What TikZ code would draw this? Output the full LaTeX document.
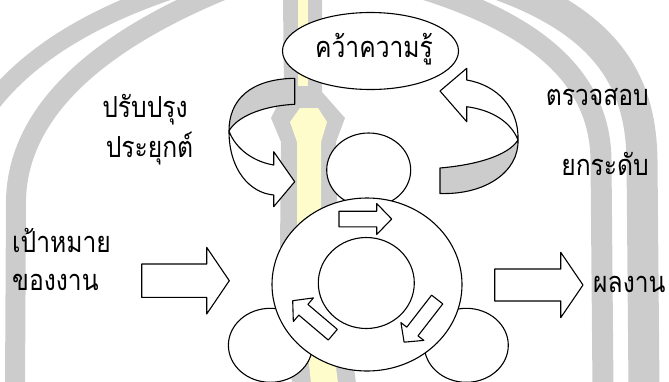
\documentclass[tikz,border=0pt]{standalone}
\usepackage{fontspec}
\newfontfamily\thaifont[Script=Thai, FakeStretch=0.85]{Loma}
\usetikzlibrary{shapes.geometric}

% block arrow: tail centre, angle, length, shaft half width, head half width, head length
\newcommand{\blockarrow}[6]{%
  \begin{scope}[shift={#1}, rotate=#2]
    \draw[outline] (0,-#4) -- ({#3-#6},-#4) -- ({#3-#6},-#5) -- (#3,0)
      -- ({#3-#6},#5) -- ({#3-#6},#4) -- (0,#4) -- cycle;
  \end{scope}}

\begin{document}
\begin{tikzpicture}[x=1pt, y=-1pt, line cap=round, line join=round]

% --- Styles ---
\tikzset{
    outline/.style={
        draw=black,
        line width=1.1pt,
        fill=white
    },
    twisted/.style={
        draw=black,
        line width=1.1pt,
        fill=black!20
    },
    disc/.style={
        ellipse,
        draw=black,
        line width=1.1pt,
        fill=white,
        inner sep=0pt
    },
    thaitext/.style={
        font=\thaifont\fontsize{29}{33}\selectfont,
        inner sep=0pt
    },
    wmband/.style={
        draw=black!20,
        line cap=butt
    }
}

\useasboundingbox (0,0) rectangle (669,381);

% --- Watermark ---
\begin{scope}
    \clip (0,0) rectangle (669,381);
    \draw[wmband, line width=18pt] (178,-12) .. controls (95,15) and (25,55) .. (-15,112);
    \draw[wmband, line width=20pt] (228,-12) .. controls (100,40) and (18,110) .. (16,200) -- (15,390);
    \draw[wmband, line width=21pt] (420,-12) .. controls (540,25) and (600,80) .. (601,160) -- (603,390);
    \draw[wmband, line width=31pt] (500,-15) .. controls (610,25) and (641,85) .. (642,160) -- (644,390);
    \fill[black!20] (283,-2) -- (322,-2) -- (322,92) -- (345,118) -- (336,142) -- (338,250)
        -- (356,383) -- (292,383) -- (280,250) -- (281,142) -- (271,118) -- (284,92) -- cycle;
    \fill[yellow!20] (298,-2) -- (308,-2) -- (308,86) -- (298,86) -- cycle;
    \fill[yellow!20] (300,108) -- (318,108) -- (327,122) -- (321,142) -- (321,250)
        -- (338,383) -- (311,383) -- (297,250) -- (297,142) -- (290,122) -- cycle;
\end{scope}

% --- Knowledge ellipse ---
\node[disc, minimum width=176pt, minimum height=77pt] (knowledge) at (370.5,51) {};
\node[thaitext, anchor=base] (knowtext) at (374,57) {คว้าความรู้};

% --- Curved arrow left ---
\draw[twisted] (294.7,78.3) .. controls (250,79) and (229,100) .. (229,131)
    .. controls (236,118) and (260,106) .. (294.7,104.3) -- cycle;
\draw[outline] (229,131) .. controls (229,170) and (250,193) .. (273.7,195)
    -- (273.7,206.7) -- (294.7,181.7) -- (273.7,151.7) -- (273.7,165)
    .. controls (255,162) and (236,150) .. (229,131) -- cycle;

% --- Curved arrow right ---
\draw[twisted] (440,168) .. controls (475,165) and (508,156) .. (518,140)
    .. controls (519,172) and (485,195) .. (440,193.5) -- cycle;
\draw[outline] (518,140) .. controls (519,108) and (497,85) .. (466.7,80)
    -- (466.7,68.3) -- (440,91) -- (466.7,121.7) -- (466.7,106.7)
    .. controls (492,110) and (511,122) .. (518,140) -- cycle;

% --- Circles ---
\node[disc, minimum width=84pt, minimum height=74pt] (top) at (368.7,170) {};
\node[disc, minimum width=84pt, minimum height=74pt] (left) at (270.4,345.3) {};
\node[disc, minimum width=84pt, minimum height=74pt] (right) at (466.3,345.3) {};
\node[disc, minimum width=190pt, minimum height=173pt] (ring) at (367,284.5) {};
\node[disc, minimum width=96pt, minimum height=91pt] (core) at (366.3,283) {};

% --- Block arrows ---
\blockarrow{(141.7,280.7)}{0}{87.6}{16.7}{33.3}{22.6}
\blockarrow{(494.7,285)}{0}{88.3}{16}{32.7}{22.3}
\blockarrow{(339,219)}{0}{52.7}{7.8}{15.5}{15}
\blockarrow{(437.2,299.5)}{-127.8}{54}{7.1}{14.5}{13.5}
\blockarrow{(332.8,334.7)}{139.7}{52.6}{7}{15.5}{14}

% --- Labels ---
\node[thaitext, anchor=base] (improve) at (145,117) {ปรับปรุง};
\node[thaitext, anchor=base] (apply) at (149.5,157) {ประยุกต์};
\node[thaitext, anchor=base east] (check) at (649,105) {ตรวจสอบ};
\node[thaitext, anchor=base east] (raise) at (649,175) {ยกระดับ};
\node[thaitext, anchor=base west] (goal) at (12,252) {เป้าหมาย};
\node[thaitext, anchor=base west] (work) at (12,290) {ของงาน};
\node[thaitext, anchor=base west] (result) at (593,292) {ผลงาน};

\end{tikzpicture}
\end{document}
